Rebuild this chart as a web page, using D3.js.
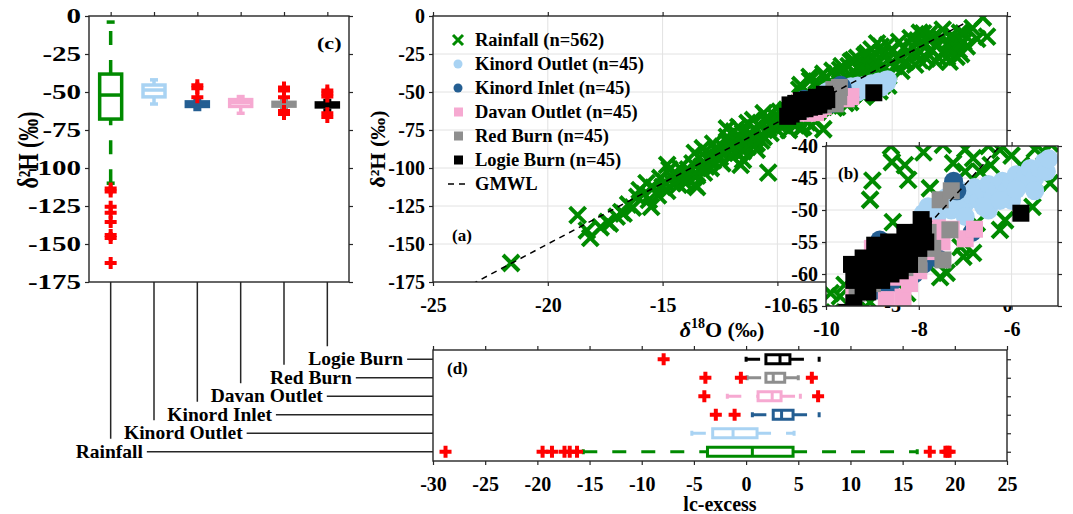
<!DOCTYPE html>
<html>
<head>
<meta charset="utf-8">
<script src="https://cdn.jsdelivr.net/npm/d3@7"></script>
<style>
body{margin:0;background:#fff;}
svg text{font-family:"Liberation Serif","Times New Roman",serif;font-weight:bold;fill:#000;}
</style>
</head>
<body>
<script>
// ---- data ----
var sites = ["Rainfall","Kinord Outlet","Kinord Inlet","Davan Outlet","Red Burn","Logie Burn"];
var siteCounts = [562,45,45,45,45,45];

// panel (c): d2H box statistics (per site)
var h2Med = [-52,-48.7,-58,-57,-58,-58.5];
var h2Q1  = [-67.8,-53.2,-59.5,-59.5,-59.3,-59.8];
var h2Q3  = [-38.2,-45.4,-56.5,-55,-56.8,-57.2];
var h2WLo = [-110,-57.9,-61.5,-64,-61,-62];
var h2WHi = [-4,-42,-55,-53,-55.5,-55.5];
var h2Out = [[-113.5,-115.5,-125.5,-129.5,-135.5,-144,-146,-162.5],[],[-45.5,-47.5,-53.5],[],[-47,-49,-53.5,-62.5,-64.5],[-49,-51,-53,-64,-66.5]];

// panel (d): lc-excess box statistics
var lcMed = [0.6,-1.25,3.4,2.5,2.6,3.25];
var lcQ1  = [-3.7,-3.2,2.6,1.15,1.9,1.9];
var lcQ3  = [4.5,1.05,4.5,3.35,3.7,4.2];
var lcWLo = [-15.6,-5.2,0.6,-1.8,0.1,0.0];
var lcWHi = [16.4,4.6,7.0,5.2,5.0,7.0];
var lcOut = [[-28.8,-19.5,-18.6,-17.4,-16.9,-16.2,17.6,19.1,19.5,19.3],[],[-2.9,-1.1],[-4.0,6.9],[-3.9,-0.5,6.3],[-7.9]];

// panel (a)/(b): [d18O, d2H]
var rainIso = [[-21.6,-162.5],[-18.7,-131],[-18.3,-141],[-18.15,-146],[-17.7,-139],[-17.4,-135.5],[-17.3,-136.5],[-17.0,-132],[-16.8,-129],[-16.7,-130],[-16.5,-124],[-16.3,-126],[-15.6,-121],[-15.5,-125.6],[-16.0,-114.5],[-15.7,-110],[-16.1,-119],[-15.8,-117],[-15.4,-113],[-15.2,-118],[-15.1,-106.6],[-15.0,-112.5],[-14.9,-109],[-14.8,-115],[-14.8,-98],[-14.7,-101],[-14.6,-106],[-14.55,-110],[-14.4,-104],[-14.3,-111],[-14.25,-100],[-14.1,-106],[-14.0,-110],[-13.9,-101],[-13.9,-107],[-13.8,-102.6],[-13.7,-97],[-13.6,-111],[-13.6,-90],[-13.5,-112.5],[-13.5,-105],[-13.4,-93],[-13.3,-99],[-13.25,-87],[-13.2,-103],[-13.1,-99],[-13.0,-95],[-12.9,-91],[-12.9,-100],[-12.8,-95],[-12.8,-84],[-12.7,-88],[-12.6,-93],[-12.5,-92.8],[-12.4,-86],[-12.4,-97],[-12.3,-90],[-12.2,-79.5],[-12.2,-74],[-12.1,-84],[-12.06,-81.6],[-12.0,-88],[-12.0,-92],[-11.9,-86],[-11.9,-76],[-11.8,-80],[-11.76,-89.5],[-11.7,-84],[-11.7,-73],[-11.6,-98],[-11.5,-94.7],[-11.5,-77],[-11.5,-89],[-11.4,-82],[-11.3,-70.4],[-11.3,-86],[-11.2,-77],[-11.1,-80],[-11.06,-68.4],[-11.0,-74],[-11.0,-85],[-10.9,-88],[-10.9,-83.6],[-10.8,-72],[-10.7,-78],[-10.7,-82],[-10.6,-79.6],[-10.6,-64],[-10.5,-69],[-10.45,-66.4],[-10.4,-103],[-10.4,-74],[-10.3,-77],[-10.2,-70],[-10.1,-66],[-10.0,-70.4],[-10.0,-75],[-9.9,-63],[-9.8,-68],[-9.7,-72],[-9.6,-66],[-9.5,-75],[-9.4,-70],[-9.3,-64],[-9.2,-72],[-9.1,-68],[-9.0,-74],[-8.88,-73],[-8.7,-70],[-8.5,-72],[-8.3,-69],[-8.0,-74.5],
  [-9.7,-63.5],[-9.6,-61.7],[-9.05,-64.4],[-9.05,-48.4],[-8.58,-42.5],[-8.56,-51.9],[-8.25,-63],[-8.23,-45.3],[-9.0,-45.4],[-8.6,-40],[-8.3,-43],[-8.0,-38],[-7.9,-41],[-7.76,-46.6],[-7.76,-58.9],[-7.6,-36],[-7.54,-60.5],[-7.48,-39.8],[-7.4,-59.8],[-7.27,-35.5],[-7.26,-42.7],[-7.2,-33],[-7.1,-55.8],[-7.04,-57.3],[-7.0,-40.5],[-7.0,-44],[-6.9,-33],[-6.83,-41.9],[-6.83,-56.7],[-6.8,-30],[-6.75,-52],[-6.7,-29],[-6.68,-44],[-6.6,-38],[-6.53,-27.6],[-6.5,-40],[-6.45,-43],[-6.4,-32],[-6.3,-36],[-6.25,-40.6],[-6.25,-53.1],[-6.2,-26],[-6.14,-51.6],[-6.1,-24.5],[-6.05,-29],[-6.0,-41.5],[-5.97,-34],[-5.9,-22],[-5.8,-43],[-5.8,-27],[-5.8,-37],[-5.66,-18],[-5.6,-31],[-5.55,-49.5],[-5.5,-20.2],[-5.5,-40.5],[-5.45,-45.8],[-5.4,-25],[-5.3,-41],[-5.3,-34],[-5.2,-29],[-5.2,-19],[-5.17,-39.6],[-5.17,-45.8],[-5.0,-23],[-4.9,-33],[-4.8,-27],[-4.7,-17],[-4.66,-27],[-4.6,-36],[-4.5,-21],[-4.5,-31],[-4.4,-30],[-4.3,-24],[-4.2,-14.5],[-4.1,-20.2],[-4.0,-32],[-3.9,-25.6],[-3.9,-16],[-3.8,-11],[-3.8,-29],[-3.7,-19],[-3.65,-11.4],[-3.5,-28],[-3.4,-16],[-3.4,-12],[-3.3,-22],[-3.2,-13.6],[-3.1,-30],[-3.0,-19],[-3.0,-27],[-2.9,-14.6],[-2.8,-24],[-2.8,-9],[-2.6,-18],[-2.61,-27],[-2.5,-30],[-2.4,-21],[-2.4,-12.5],[-2.3,-16],[-2.2,-26.8],[-2.1,-22.4],[-2.05,-11],[-2.0,-25],[-1.9,-11.4],[-1.9,-17],[-1.75,-20],[-1.5,-8],[-1.3,-15],[-1.05,-1],[-0.87,-13.6]];
var kinordOutIso = [[-7.9,-50.5],[-7.8,-49.5],[-7.6,-50.8],[-7.5,-49],[-7.4,-48],[-7.3,-50],[-7.2,-48.5],[-7.1,-47],[-7.0,-49],[-7.0,-51],[-6.9,-47.5],[-6.8,-46.5],[-6.7,-48.5],[-6.6,-47],[-6.5,-46],[-6.5,-50],[-6.4,-48],[-6.3,-46.5],[-6.2,-45.5],[-6.1,-47],[-6.0,-45.5],[-6.0,-48.5],[-5.9,-44.5],[-5.8,-46],[-5.7,-44.5],[-5.6,-43.5],[-5.5,-45],[-5.5,-47],[-5.4,-43.5],[-5.3,-42.5],[-5.25,-44],[-5.2,-42],[-6.6,-49.5],[-7.7,-51.5],[-6.25,-48.5],[-5.9,-46.8]];
var kinordInIso = [[-7.25,-45.5],[-7.18,-47],[-6.85,-53.5],[-8.84,-54.7],[-7.9,-58.5],[-8.9,-62.5],[-9.0,-57],[-8.8,-58],[-8.6,-56.5],[-8.5,-59],[-8.7,-60],[-8.4,-57.5],[-8.3,-58.5],[-8.2,-56],[-8.9,-59.5],[-9.1,-60.5],[-8.0,-57],[-8.1,-60],[-7.6,-57.5],[-8.6,-61.5]];
var davanIso = [[-7.9,-52.5],[-7.6,-52.8],[-7.3,-53],[-7.0,-54.5],[-6.8,-53],[-7.5,-55],[-8.34,-63.6],[-9.4,-63],[-8.7,-64],[-8.2,-61.5],[-8.0,-59.5],[-8.6,-57],[-8.8,-59],[-9.0,-56],[-8.4,-58],[-9.2,-61],[-8.1,-55.5],[-7.8,-56.5],[-8.5,-60.5],[-9.1,-58]];
var redBurnIso = [[-7.54,-48.4],[-7.33,-53.1],[-7.48,-57.8],[-9.33,-63],[-7.97,-55.2],[-9.1,-62.5],[-8.7,-58],[-8.5,-57],[-8.9,-60],[-8.3,-59],[-8.1,-57.5],[-9.2,-59.5],[-8.0,-58.5],[-7.7,-56],[-8.6,-55.5],[-7.8,-53.5],[-7.3,-47],[-9.0,-61.5]];
var logieIso = [[-9.3,-59],[-9.2,-57.5],[-9.1,-60],[-9.0,-58],[-8.9,-56.5],[-8.8,-59],[-8.7,-57],[-8.6,-58.5],[-8.5,-56],[-8.4,-57.5],[-8.3,-55.5],[-8.2,-56.8],[-8.1,-54.5],[-8.0,-53.5],[-7.9,-52.5],[-9.4,-61],[-9.2,-62],[-9.0,-60.5],[-8.8,-61],[-8.6,-60],[-8.4,-59.5],[-8.2,-58.5],[-8.0,-56],[-7.85,-55],[-9.4,-64.5],[-9.55,-66],[-5.8,-50.5],[-8.95,-55.5],[-8.65,-55],[-9.45,-58.5],[-8.3,-53.5],[-7.95,-51.5],[-9.1,-62.8]];
var isoSets = [rainIso,kinordOutIso,kinordInIso,davanIso,redBurnIso,logieIso];

// GMWL: d2H = 8*d18O + 10
var gmwlSlope = 8, gmwlIntercept = 10;
var gmwlRange = [-25,-1.8];

// tick labels
var h2Ticks = [0,-25,-50,-75,-100,-125,-150,-175];
var o18Ticks = [-25,-20,-15,-10,-5,0];
var insetO18Ticks = [-10,-8,-6];
var insetH2Ticks = [-40,-45,-50,-55,-60,-65];
var lcTicks = [-30,-25,-20,-15,-10,-5,0,5,10,15,20,25];

// ---- style ----
var palette = ["#008a00","#a9d3f3","#245e92","#f6a9d1","#8e8e8e","#000000"];
var markerKind = ["x","o","o","s","s","s"];
var axisCol = "#262626";
var labelDx = [-35,-30,-30,-30,-14,-19];
var stretchC = 1.3;      // panel (c) lettering is drawn wider in the original
var stretchTickC = 1.45;

var svg = d3.select("body").append("svg")
    .attr("width",1073).attr("height",514).style("display","block");
svg.append("rect").attr("width",1073).attr("height",514).attr("fill","#fff");

// scales
var xC = d3.scalePoint().domain(sites).range([89,349]).padding(0.5);
var yC = d3.scaleLinear().domain([-175,0]).range([282,16]);
var xA = d3.scaleLinear().domain([-25,0]).range([433,1007]);
var yA = d3.scaleLinear().domain([-175,0]).range([282,16]);
var xB = d3.scaleLinear().domain([-10,-5]).range([826,1058]);
var yB = d3.scaleLinear().domain([-65,-40]).range([306,146]);
var xD = d3.scaleLinear().domain([-30,25]).range([433,1007]);
var yD = d3.scalePoint().domain(sites.slice().reverse()).range([350,461]).padding(0.5);

function crossPath(s){ return "M"+(-s)+","+(-s)+"L"+s+","+s+"M"+(-s)+","+s+"L"+s+","+(-s); }
function plusPath(s){ return "M"+(-s)+",0H"+s+"M0,"+(-s)+"V"+s; }
var fmt = function(d){ return String(d); };

function styleAxis(g, size){
    g.attr("font-size", size || 20);
    g.select(".domain").remove();
    g.selectAll("line").attr("stroke",axisCol).attr("stroke-width",1.2);
}
function frame(g, xs, ys){
    g.append("rect")
        .attr("x",xs.range()[0]).attr("y",Math.min(ys.range()[0],ys.range()[1]))
        .attr("width",Math.abs(xs.range()[1]-xs.range()[0]))
        .attr("height",Math.abs(ys.range()[1]-ys.range()[0]))
        .attr("fill","none").attr("stroke",axisCol).attr("stroke-width",1.4);
}
function grid(g, xs, ys, xt, yt){
    var y0 = ys.range()[0], y1 = ys.range()[1];
    g.append("g").selectAll("line").data(xt).join("line")
        .attr("x1",xs).attr("x2",xs).attr("y1",y0).attr("y2",y1)
        .attr("stroke","#e2e2e2").attr("stroke-width",1);
    g.append("g").selectAll("line").data(yt).join("line")
        .attr("y1",ys).attr("y2",ys).attr("x1",xs.range()[0]).attr("x2",xs.range()[1])
        .attr("stroke","#e2e2e2").attr("stroke-width",1);
}

// boxplots (MATLAB style)
function drawBoxes(g, horiz, catScale, valScale, st, halfW, capHalf, lw){
    sites.forEach(function(s, i){
        var c = catScale(s), col = palette[i];
        function P(v, off){ return horiz ? [valScale(v), c+off] : [c+off, valScale(v)]; }
        function seg(v1,o1,v2,o2){
            var a = P(v1,o1), b = P(v2,o2);
            return g.append("line").attr("x1",a[0]).attr("y1",a[1]).attr("x2",b[0]).attr("y2",b[1])
                .attr("stroke",col).attr("stroke-width",lw);
        }
        seg(st.wLo[i],0,st.q1[i],0).attr("stroke-dasharray","14,15");
        seg(st.q3[i],0,st.wHi[i],0).attr("stroke-dasharray","14,15");
        seg(st.wLo[i],-capHalf,st.wLo[i],capHalf);
        seg(st.wHi[i],-capHalf,st.wHi[i],capHalf);
        var a = P(st.q1[i],-halfW), b = P(st.q3[i],halfW);
        g.append("rect")
            .attr("x",Math.min(a[0],b[0])).attr("y",Math.min(a[1],b[1]))
            .attr("width",Math.abs(b[0]-a[0])).attr("height",Math.abs(b[1]-a[1]))
            .attr("fill","none").attr("stroke",col).attr("stroke-width",lw);
        seg(st.med[i],-halfW,st.med[i],halfW);
        g.append("g").selectAll("path").data(st.out[i]).join("path")
            .attr("d",plusPath(6))
            .attr("transform",function(d){ var p = P(d,0); return "translate("+p[0]+","+p[1]+")"; })
            .attr("stroke","#ff0000").attr("stroke-width",4).attr("fill","none");
    });
}

// scatter of all series
function drawSeries(g, xs, ys){
    isoSets.forEach(function(set, i){
        var k = markerKind[i], col = palette[i];
        var sg = g.append("g");
        if (k === "x") {
            sg.selectAll("path").data(set).join("path")
                .attr("d",crossPath(8))
                .attr("transform",function(d){ return "translate("+xs(d[0])+","+ys(d[1])+")"; })
                .attr("stroke",col).attr("stroke-width",4).attr("fill","none");
        } else if (k === "o") {
            sg.selectAll("circle").data(set).join("circle")
                .attr("cx",function(d){ return xs(d[0]); }).attr("cy",function(d){ return ys(d[1]); })
                .attr("r",9.5).attr("fill",col);
        } else {
            sg.selectAll("rect").data(set).join("rect")
                .attr("x",function(d){ return xs(d[0])-8.5; }).attr("y",function(d){ return ys(d[1])-8.5; })
                .attr("width",17).attr("height",17).attr("fill",col);
        }
    });
    var gm = gmwlRange.map(function(o){ return [xs(o), ys(gmwlSlope*o+gmwlIntercept)]; });
    g.append("path").attr("d",d3.line()(gm))
        .attr("stroke","#000").attr("stroke-width",1.5).attr("stroke-dasharray","6,5").attr("fill","none");
}

// ---------- panel (c) ----------
var gC = svg.append("g");
drawBoxes(gC, false, xC, yC,
    {q1:h2Q1,q3:h2Q3,med:h2Med,wLo:h2WLo,wHi:h2WHi,out:h2Out}, 11, 4, 3.5);
frame(gC, xC, yC);
var axC = gC.append("g").attr("transform","translate(89,0)")
    .call(d3.axisLeft(yC).tickValues(h2Ticks).tickSize(4).tickPadding(4).tickFormat(fmt)).call(styleAxis);
axC.selectAll("text").attr("transform","scale("+stretchTickC+",1)").attr("x",-8/stretchTickC);
gC.append("g").attr("transform","translate(349,0)")
    .call(d3.axisRight(yC).tickValues(h2Ticks).tickSize(4).tickFormat("")).call(styleAxis);
gC.append("g").attr("transform","translate(0,16)")
    .call(d3.axisTop(xC).tickSize(4).tickFormat("")).call(styleAxis);
gC.append("text").attr("transform","translate(317,49) scale("+stretchC+",1)").attr("font-size",17).text("(c)");
gC.append("text").attr("transform","translate(38,150) rotate(-90) scale(1,"+stretchC+")").attr("text-anchor","middle")
    .attr("font-size",22).text("\u03b4\u00b2H (\u2030)");

// ---------- panel (a) ----------
var gA = svg.append("g");
grid(gA, xA, yA, o18Ticks.slice(1,-1), h2Ticks.slice(1,-1));
svg.append("clipPath").attr("id","clipA").append("rect")
    .attr("x",433).attr("y",16).attr("width",574).attr("height",266);
drawSeries(gA.append("g").attr("clip-path","url(#clipA)"), xA, yA);
frame(gA, xA, yA);
gA.append("g").attr("transform","translate(433,0)")
    .call(d3.axisLeft(yA).tickValues(h2Ticks).tickSize(4).tickPadding(4).tickFormat(fmt)).call(styleAxis);
gA.append("g").attr("transform","translate(1007,0)")
    .call(d3.axisRight(yA).tickValues(h2Ticks).tickSize(4).tickFormat("")).call(styleAxis);
gA.append("g").attr("transform","translate(0,282)")
    .call(d3.axisBottom(xA).tickValues(o18Ticks).tickSize(4).tickPadding(12).tickFormat(fmt)).call(styleAxis);
gA.append("g").attr("transform","translate(0,16)")
    .call(d3.axisTop(xA).tickValues(o18Ticks).tickSize(4).tickFormat("")).call(styleAxis);
gA.append("text").attr("transform","translate(385,149) rotate(-90)").attr("text-anchor","middle")
    .attr("font-size",22).text("\u03b4\u00b2H (\u2030)");
var xl = gA.append("text").attr("x",722).attr("y",337).attr("text-anchor","middle").attr("font-size",22);
xl.append("tspan").attr("font-style","italic").text("\u03b4");
xl.append("tspan").attr("font-size",14).attr("dy",-9).text("18");
xl.append("tspan").attr("dy",9).text("O (\u2030)");
gA.append("text").attr("x",452).attr("y",241).attr("font-size",17).text("(a)");

// legend
var leg = gA.append("g");
var legRows = sites.map(function(s,i){ return {label:s+" (n="+siteCounts[i]+")", i:i}; });
legRows.push({label:"GMWL", i:-1});
legRows.forEach(function(r, j){
    var y = 40 + j*24;
    if (r.i < 0) {
        leg.append("line").attr("x1",448).attr("x2",470).attr("y1",y).attr("y2",y)
            .attr("stroke","#000").attr("stroke-width",1.5).attr("stroke-dasharray","6,5");
    } else if (markerKind[r.i] === "x") {
        leg.append("path").attr("d",crossPath(5)).attr("transform","translate(458,"+y+")")
            .attr("stroke",palette[r.i]).attr("stroke-width",3).attr("fill","none");
    } else if (markerKind[r.i] === "o") {
        leg.append("circle").attr("cx",458).attr("cy",y).attr("r",4.5).attr("fill",palette[r.i]);
    } else {
        leg.append("rect").attr("x",454).attr("y",y-4.5).attr("width",9).attr("height",9).attr("fill",palette[r.i]);
    }
    leg.append("text").attr("x",475).attr("y",y+6).attr("font-size",18.5).text(r.label);
});

// ---------- inset (b) ----------
var gB = svg.append("g");
gB.append("rect").attr("x",826).attr("y",146).attr("width",232).attr("height",160).attr("fill","#fff");
grid(gB, xB, yB, insetO18Ticks.slice(1), insetH2Ticks.slice(1,-1));
svg.append("clipPath").attr("id","clipB").append("rect")
    .attr("x",826).attr("y",146).attr("width",232).attr("height",160);
drawSeries(gB.append("g").attr("clip-path","url(#clipB)"), xB, yB);
frame(gB, xB, yB);
gB.append("g").attr("transform","translate(826,0)")
    .call(d3.axisLeft(yB).tickValues(insetH2Ticks).tickSize(4).tickPadding(4).tickFormat(fmt)).call(styleAxis);
gB.append("g").attr("transform","translate(1058,0)")
    .call(d3.axisRight(yB).tickValues(insetH2Ticks).tickSize(4).tickFormat("")).call(styleAxis);
gB.append("g").attr("transform","translate(0,306)")
    .call(d3.axisBottom(xB).tickValues(insetO18Ticks).tickSize(4).tickPadding(12).tickFormat(fmt)).call(styleAxis);
gB.append("g").attr("transform","translate(0,146)")
    .call(d3.axisTop(xB).tickValues(insetO18Ticks).tickSize(4).tickFormat("")).call(styleAxis);
gB.append("text").attr("x",838).attr("y",179).attr("font-size",17).text("(b)");

// ---------- panel (d) ----------
var gD = svg.append("g");
drawBoxes(gD, true, yD, xD,
    {q1:lcQ1,q3:lcQ3,med:lcMed,wLo:lcWLo,wHi:lcWHi,out:lcOut}, 4.5, 2.5, 3);
frame(gD, xD, yD);
gD.append("g").attr("transform","translate(0,461)")
    .call(d3.axisBottom(xD).tickValues(lcTicks).tickSize(4).tickPadding(12).tickFormat(fmt)).call(styleAxis);
gD.append("g").attr("transform","translate(0,350)")
    .call(d3.axisTop(xD).tickValues(lcTicks).tickSize(4).tickFormat("")).call(styleAxis);
gD.append("g").attr("transform","translate(1007,0)")
    .call(d3.axisRight(yD).tickSize(4).tickFormat("")).call(styleAxis);
gD.append("text").attr("x",720).attr("y",511).attr("text-anchor","middle").attr("font-size",20).text("lc-excess");
gD.append("text").attr("x",447).attr("y",374).attr("font-size",17).text("(d)");

// ---------- site labels linking (c) and (d) ----------
var gL = svg.append("g");
sites.forEach(function(s, i){
    var x0 = xC(s), ry = yD(s);
    gL.append("line").attr("x1",x0).attr("x2",x0).attr("y1",282).attr("y2",ry-13)
        .attr("stroke",axisCol).attr("stroke-width",1.5);
    var t = gL.append("text").attr("x",x0+labelDx[i]).attr("y",ry+6).attr("font-size",19.5).text(s);
    var end = x0 + labelDx[i] + t.node().getComputedTextLength();
    gL.append("line").attr("x1",end+4).attr("x2",433).attr("y1",ry).attr("y2",ry)
        .attr("stroke",axisCol).attr("stroke-width",1.5);
});
</script>
</body>
</html>
